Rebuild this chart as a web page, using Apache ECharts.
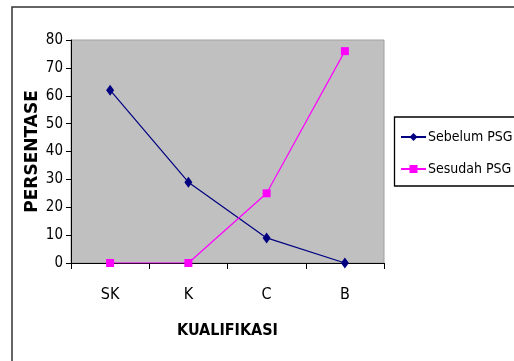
<!DOCTYPE html>
<html><head><meta charset="utf-8">
<script src="https://cdn.jsdelivr.net/npm/echarts@6/dist/echarts.min.js"></script>
<style>html,body{margin:0;padding:0;background:#fff}#c{width:514px;height:361px}</style>
</head><body><div id="c"></div>
<script>
const categories = ['SK', 'K', 'C', 'B'];
const sebelum = [62, 29, 9, 0];
const sesudah = [0, 0, 25, 76];
const yMin = 0, yMax = 80, yStep = 10;
const FONT = '"DejaVu Sans Condensed", "Liberation Sans Narrow", sans-serif';

const chart = echarts.init(document.getElementById('c'), null, {renderer: 'canvas'});
chart.setOption({
  animation: false,
  backgroundColor: '#fff',
  grid: {left: 71, top: 40, width: 313, height: 223, show: true, backgroundColor: '#c0c0c0', borderColor: '#a0a0a0', borderWidth: 1},
  graphic: [
    {type: 'rect', shape: {x: 12, y: 7, width: 600, height: 400}, style: {fill: 'none', stroke: '#333', lineWidth: 1.5}, z: 0},
    {type: 'rect', shape: {x: 394.5, y: 117, width: 200, height: 69}, style: {fill: '#fff', stroke: '#000', lineWidth: 1.3}, z: 1}
  ],
  legend: {
    orient: 'vertical', left: 395, top: 125, itemGap: 18, itemWidth: 25, itemHeight: 10,
    textStyle: {fontFamily: FONT, fontSize: 14, color: '#000', padding: [0, 0, 0, -3]},
    z: 5,
    data: ['Sebelum PSG', 'Sesudah PSG']
  },
  xAxis: {
    type: 'category', data: categories, boundaryGap: true,
    axisLine: {lineStyle: {color: '#000', width: 1}},
    axisTick: {show: true, length: 6, alignWithLabel: false, lineStyle: {color: '#000'}},
    axisLabel: {margin: 24, fontFamily: FONT, fontSize: 16, color: '#000'},
    name: 'KUALIFIKASI', nameLocation: 'middle', nameGap: 60, nameMoveOverlap: false,
    nameTextStyle: {fontFamily: FONT, fontSize: 16, fontWeight: 'bold', color: '#000'},
    splitLine: {show: false}
  },
  yAxis: {
    type: 'value', min: yMin, max: yMax, interval: yStep,
    axisLine: {show: true, lineStyle: {color: '#000', width: 1}},
    axisTick: {show: true, length: 5, inside: false, lineStyle: {color: '#000'}},
    axisLabel: {margin: 8, fontFamily: FONT, fontSize: 15, color: '#000'},
    name: 'PERSENTASE', nameLocation: 'middle', nameGap: 30, nameRotate: 90, nameMoveOverlap: false,
    nameTextStyle: {fontFamily: '"DejaVu Sans", sans-serif', fontSize: 17, fontWeight: 'bold', color: '#000'},
    splitLine: {show: false}
  },
  series: [
    {name: 'Sebelum PSG', type: 'line', data: sebelum, symbol: 'diamond', symbolSize: [8, 11],
     itemStyle: {color: '#000080'}, lineStyle: {color: '#000080', width: 1.2}},
    {name: 'Sesudah PSG', type: 'line', data: sesudah, symbol: 'rect', symbolSize: 8,
     itemStyle: {color: '#ff00ff'}, lineStyle: {color: '#ff00ff', width: 1.2}}
  ]
});
</script></body></html>
